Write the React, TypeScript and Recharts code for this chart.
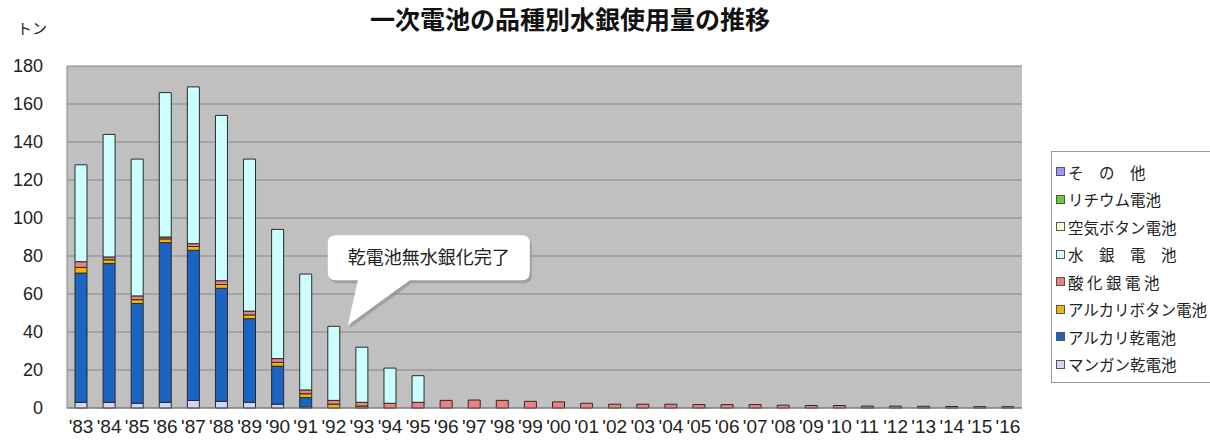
import { BarChart, Bar, XAxis, YAxis, CartesianGrid, ReferenceDot } from 'recharts';

const years = ["'83", "'84", "'85", "'86", "'87", "'88", "'89", "'90", "'91", "'92", "'93", "'94", "'95", "'96", "'97", "'98", "'99", "'00", "'01", "'02", "'03", "'04", "'05", "'06", "'07", "'08", "'09", "'10", "'11", "'12", "'13", "'14", "'15", "'16"];

// トン
const manganese = [3, 3, 2.5, 3, 4, 3.5, 3, 2, 0.5, 0, 0, 0, 0, 0, 0, 0, 0, 0, 0, 0, 0, 0, 0, 0, 0, 0, 0, 0, 0, 0, 0, 0, 0, 0];
const alkaline = [68, 73, 52.5, 84, 79, 59.5, 44, 20, 5, 0, 0, 0, 0, 0, 0, 0, 0, 0, 0, 0, 0, 0, 0, 0, 0, 0, 0, 0, 0, 0, 0, 0, 0, 0];
const alkButton = [3, 2, 2, 2, 2, 2, 2, 2, 2, 2, 1, 0, 0, 0, 0, 0, 0, 0, 0, 0, 0, 0, 0, 0, 0, 0, 0, 0, 0, 0, 0, 0, 0, 0];
const silverOxide = [3, 1.5, 2, 1, 1.5, 2, 2, 2, 2, 2, 2, 2.5, 3, 4, 4.2, 4, 3.5, 3.2, 2.5, 2, 2, 2, 1.8, 1.8, 1.8, 1.5, 1.3, 1.3, 1, 1, 0.9, 0.8, 0.7, 0.7];
const mercury = [51, 64.5, 72, 76, 82.5, 87, 80, 68, 61, 39, 29, 18.5, 14, 0, 0, 0, 0, 0, 0, 0, 0, 0, 0, 0, 0, 0, 0, 0, 0, 0, 0, 0, 0, 0];
const airButton = years.map(() => 0);
const lithium = years.map(() => 0);
const other = years.map(() => 0);

const yTicks = [0, 20, 40, 60, 80, 100, 120, 140, 160, 180];

const series = [
    { key: 'manganese', name: 'マンガン乾電池', color: '#d4d4fa', values: manganese },
    { key: 'alkaline', name: 'アルカリ乾電池', color: '#1c64c4', values: alkaline },
    { key: 'alkButton', name: 'アルカリボタン電池', color: '#f2b705', values: alkButton },
    { key: 'silverOxide', name: '酸 化 銀 電 池', color: '#f08080', values: silverOxide },
    { key: 'mercury', name: '水　銀　電　池', color: '#ccffff', values: mercury },
    { key: 'airButton', name: '空気ボタン電池', color: '#ffffcc', values: airButton },
    { key: 'lithium', name: 'リチウム電池', color: '#66cc33', values: lithium },
    { key: 'other', name: 'そ　の　他', color: '#9999ff', values: other },
];

const data = years.map((y, i) => {
    const row: any = { year: y };
    series.forEach(s => { row[s.key] = s.values[i]; });
    return row;
});

const jp = '"Noto Sans CJK JP", sans-serif';

function Callout(props: any) {
    const { cx, cy } = props;
    const tx = cx + 14, ty = cy - 1;
    const l = tx - 20, r = tx + 182, t = ty - 90, b = ty - 45, rad = 8;
    const d = `M${l + rad},${t} H${r - rad} Q${r},${t} ${r},${t + rad} V${b - rad} Q${r},${b} ${r - rad},${b}
        H${tx + 62} L${tx},${ty} L${tx + 10},${b} H${l + rad} Q${l},${b} ${l},${b - rad} V${t + rad} Q${l},${t} ${l + rad},${t} Z`;
    return (
        <g>
            <path d={d} fill="#8a8a8a" transform="translate(2,3)" opacity={0.6} />
            <path d={d} fill="#ffffff" />
            <text x={(l + r) / 2} y={(t + b) / 2 + 1} textAnchor="middle" dominantBaseline="middle"
                fontSize={18} fill="#222" fontFamily={jp}>乾電池無水銀化完了</text>
        </g>
    );
}

function LegendBox() {
    return (
        <div style={{ position: 'absolute', left: 1051, top: 151, border: '1px solid #999', background: '#fff', width: 170, padding: '6px 0 4px 4px', fontFamily: jp, fontSize: 15.5, color: '#222' }}>
            {[...series].reverse().map(s => (
                <div key={s.key} style={{ display: 'flex', alignItems: 'center', height: 27.5 }}>
                    <span style={{ display: 'inline-block', width: 7, height: 7, background: s.color, border: '1px solid #555', marginRight: 3 }} />
                    <span style={{ whiteSpace: 'nowrap' }}>{s.name}</span>
                </div>
            ))}
        </div>
    );
}

export default function App() {
    return (
        <div style={{ position: 'absolute', left: 0, top: 0, width: 1210, height: 441, background: '#fff', overflow: 'hidden' }}>
            <div style={{ position: 'absolute', left: 340, width: 460, top: 0, textAlign: 'center', fontFamily: jp, fontWeight: 'bold', fontSize: 25, color: '#111', whiteSpace: 'nowrap' }}>
                一次電池の品種別水銀使用量の推移
            </div>
            <div style={{ position: 'absolute', left: 17, top: 17, fontFamily: jp, fontSize: 15, color: '#222' }}>トン</div>
            <BarChart width={1210} height={441} data={data} margin={{ top: 66, right: 188, left: 0, bottom: 0 }} barSize={12}>
                <CartesianGrid vertical={false} stroke="#858585" fill="#c0c0c0" />
                <XAxis dataKey="year" height={33} interval={0} tickLine={false} axisLine={{ stroke: '#777' }}
                    tick={{ fontSize: 19, fill: '#222', fontFamily: '"Liberation Sans", Arial, sans-serif' }} tickMargin={6} />
                <YAxis width={67} domain={[0, 180]} ticks={yTicks} interval={0} tickLine={false} tickSize={0} tickMargin={24}
                    axisLine={{ stroke: '#888' }}
                    tick={{ fontSize: 18, fill: '#222', fontFamily: '"Liberation Sans", Arial, sans-serif' }} />
                <YAxis yAxisId="right" orientation="right" width={0} tick={false} tickLine={false} axisLine={{ stroke: '#999' }} />
                {series.map(s => (
                    <Bar key={s.key} dataKey={s.key} name={s.name} stackId="a" fill={s.color}
                        stroke="#2a2a2a" strokeWidth={1} isAnimationActive={false} />
                ))}
                <ReferenceDot x="'92" y={43} ifOverflow="visible" shape={(p: any) => <Callout {...p} />} />
            </BarChart>
            <LegendBox />
        </div>
    );
}
